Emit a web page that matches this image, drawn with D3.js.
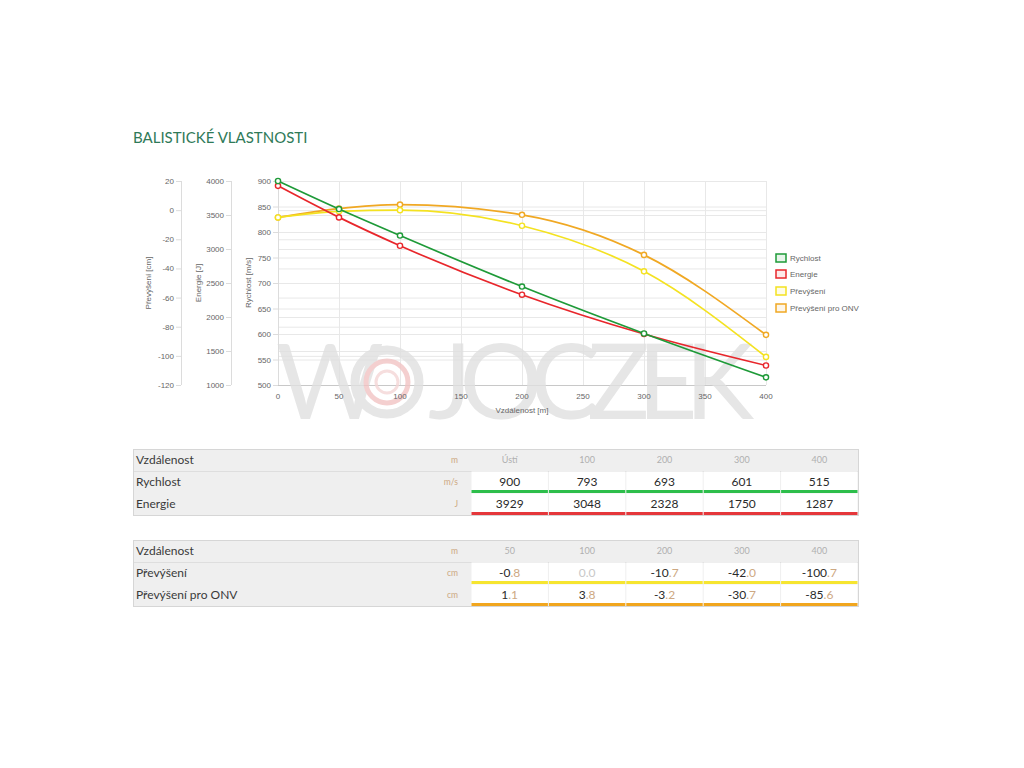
<!DOCTYPE html>
<html><head><meta charset="utf-8">
<script src="https://cdn.jsdelivr.net/npm/d3@7"></script>
<style>body{margin:0;background:#fff}svg{display:block}</style>
</head><body>
<svg id="c" width="1024" height="768"></svg>
<script>
// ---- data ----
const distances = [0, 50, 100, 200, 300, 400];
const speed = [900, 845, 793, 693, 601, 515];
const energy = [3929, 3465, 3048, 2328, 1750, 1287];
const drop = [-5, -0.8, 0.0, -10.7, -42.0, -100.7];
const dropOnv = [-5, 1.1, 3.8, -3.2, -30.7, -85.6];
const xTicks = [0, 50, 100, 150, 200, 250, 300, 350, 400];
const speedTicks = [500, 550, 600, 650, 700, 750, 800, 850, 900];
const energyTicks = [1000, 1500, 2000, 2500, 3000, 3500, 4000];
const cmTicks = [-120, -100, -80, -60, -40, -20, 0, 20];
const seriesNames = ["Rychlost", "Energie", "Převýšení", "Převýšení pro ONV"];
const seriesColors = ["#1e9a38", "#e8262b", "#f4e221", "#f0a823"];
const table1Head = ["Ústí", "100", "200", "300", "400"];
const table1Speed = [900, 793, 693, 601, 515];
const table1Energy = [3929, 3048, 2328, 1750, 1287];
const table2Head = ["50", "100", "200", "300", "400"];
const table2Drop = [-0.8, 0.0, -10.7, -42.0, -100.7];
const table2Onv = [1.1, 3.8, -3.2, -30.7, -85.6];

const svg = d3.select("#c");
const F = "'Liberation Sans', Arial, sans-serif";
const TF = "Lato, 'Open Sans', sans-serif";

// title
svg.append("text").attr("x", 133).attr("y", 143).text("BALISTICKÉ VLASTNOSTI")
  .attr("font-family", TF).attr("font-size", 15).attr("fill", "#2f7a58");

// ---- chart ----
const L = 278, R = 766, T = 181, B = 385;
const x = d3.scaleLinear().domain([0, 400]).range([L, R]);
const yS = d3.scaleLinear().domain([500, 900]).range([B, T]);
const yE = d3.scaleLinear().domain([1000, 4000]).range([B, T]);
const yC = d3.scaleLinear().domain([-120, 20]).range([B, T]);

const grid = svg.append("g");
[[yS, speedTicks], [yE, energyTicks], [yC, cmTicks]].forEach(([s, t]) => {
  grid.selectAll(null).data(t).enter().append("line")
    .attr("x1", L).attr("x2", R).attr("y1", d => s(d) + 0.5).attr("y2", d => s(d) + 0.5)
    .attr("stroke", "#e8e8e8");
});
grid.selectAll(null).data(xTicks).enter().append("line")
  .attr("x1", d => x(d) + 0.5).attr("x2", d => x(d) + 0.5).attr("y1", T).attr("y2", B)
  .attr("stroke", "#e8e8e8");
grid.append("line").attr("x1", L).attr("x2", R).attr("y1", B + 0.5).attr("y2", B + 0.5).attr("stroke", "#c8c8c8");

// watermark (logo)
const wm = svg.append("g").attr("opacity", 0.8);
wm.append("text").attr("x", 276).attr("y", 419).text("W")
  .attr("font-family", TF).attr("font-size", 104).attr("fill", "#e0e0e0");
wm.append("circle").attr("cx", 387).attr("cy", 382).attr("r", 32).attr("fill", "none").attr("stroke", "#e0e0e0").attr("stroke-width", 9);
wm.append("circle").attr("cx", 387).attr("cy", 382).attr("r", 21).attr("fill", "none").attr("stroke", "#f2c4c4").attr("stroke-width", 5);
wm.append("circle").attr("cx", 387).attr("cy", 382).attr("r", 11).attr("fill", "none").attr("stroke", "#f5d6d6").attr("stroke-width", 3);
wm.append("text").attr("x", 428).attr("y", 419).text("JOCZEK")
  .attr("font-family", TF).attr("font-size", 104).attr("fill", "#e0e0e0")
  .attr("textLength", 326).attr("lengthAdjust", "spacing");

// axes
function leftAxis(scale, ticks, ax, title, tx) {
  const g = svg.append("g").attr("font-family", F).attr("font-size", 8).attr("fill", "#666");
  g.append("line").attr("x1", ax + 0.5).attr("x2", ax + 0.5).attr("y1", T).attr("y2", B).attr("stroke", "#dcdcdc");
  g.selectAll(null).data(ticks).enter().append("line")
    .attr("x1", ax - 5).attr("x2", ax).attr("y1", d => scale(d) + 0.5).attr("y2", d => scale(d) + 0.5).attr("stroke", "#dcdcdc");
  g.selectAll(null).data(ticks).enter().append("text")
    .attr("x", ax - 7).attr("y", d => scale(d) + 3).attr("text-anchor", "end").text(d => d);
  g.append("text").attr("transform", `translate(${tx},283) rotate(-90)`).attr("text-anchor", "middle").text(title);
}
leftAxis(yC, cmTicks, 181, "Převýšení [cm]", 151);
leftAxis(yE, energyTicks, 231, "Energie [J]", 201);
leftAxis(yS, speedTicks, 278, "Rychlost [m/s]", 251);

const xg = svg.append("g").attr("font-family", F).attr("font-size", 8).attr("fill", "#666");
xg.selectAll(null).data(xTicks).enter().append("text")
  .attr("x", d => x(d)).attr("y", 399).attr("text-anchor", "middle").text(d => d);
xg.append("text").attr("x", (L + R) / 2).attr("y", 413).attr("text-anchor", "middle").text("Vzdálenost [m]");

// series
const series = [
  { vals: speed, scale: yS },
  { vals: energy, scale: yE },
  { vals: drop, scale: yC },
  { vals: dropOnv, scale: yC }
];
[3, 2, 1, 0].forEach(i => {
  const s = series[i];
  const pts = distances.map((d, j) => [x(d), s.scale(s.vals[j])]);
  svg.append("path").attr("d", d3.line().curve(d3.curveMonotoneX)(pts))
    .attr("fill", "none").attr("stroke", seriesColors[i]).attr("stroke-width", 1.7);
  svg.selectAll(null).data(pts).enter().append("circle")
    .attr("cx", d => d[0]).attr("cy", d => d[1]).attr("r", 2.6)
    .attr("fill", "#fff").attr("stroke", seriesColors[i]).attr("stroke-width", 1.4);
});

// legend
const lg = svg.append("g").attr("font-family", F).attr("font-size", 8).attr("fill", "#666");
const legY = [258, 274, 291, 308];
seriesNames.forEach((n, i) => {
  lg.append("rect").attr("x", 776).attr("y", legY[i] - 4).attr("width", 10).attr("height", 8)
    .attr("fill", seriesColors[i]).attr("fill-opacity", 0.1).attr("stroke", seriesColors[i]).attr("stroke-width", 1.5);
  lg.append("text").attr("x", 790).attr("y", legY[i] + 3).text(n);
});

// ---- tables ----
const colX = d3.scaleBand().domain(d3.range(5)).range([471, 858]);
function table(top, head, rows) {
  const g = svg.append("g").attr("font-family", TF);
  const rh = 22;
  const h = rh * 3;
  g.append("rect").attr("x", 133.5).attr("y", top + 0.5).attr("width", 725).attr("height", h).attr("fill", "#efefef").attr("stroke", "#d6d6d6");
  g.append("text").attr("x", 136).attr("y", top + 15).attr("font-size", 12).attr("fill", "#3a3a3a").text("Vzdálenost");
  g.append("text").attr("x", 458).attr("y", top + 14).attr("font-size", 8.5).attr("text-anchor", "end").attr("fill", "#cda882").text("m");
  head.forEach((t, i) => {
    g.append("text").attr("x", colX(i) + colX.bandwidth() / 2).attr("y", top + 14).attr("font-size", 9)
      .attr("text-anchor", "middle").attr("fill", "#b0b0b0").text(t);
  });
  g.append("line").attr("x1", 134).attr("x2", 858).attr("y1", top + rh + 0.5).attr("y2", top + rh + 0.5).attr("stroke", "#dedede");
  rows.forEach((r, ri) => {
    const y0 = top + rh * (ri + 1);
    g.append("text").attr("x", 136).attr("y", y0 + 15).attr("font-size", 12).attr("fill", "#3a3a3a").text(r.label);
    g.append("text").attr("x", 458).attr("y", y0 + 14).attr("font-size", 8.5).attr("text-anchor", "end").attr("fill", "#cda882").text(r.unit);
    r.vals.forEach((v, i) => {
      const cx = colX(i);
      g.append("rect").attr("x", cx + 0.5).attr("y", y0 + 0.5).attr("width", colX.bandwidth() - 1).attr("height", rh - 1).attr("fill", "#fff");
      g.append("rect").attr("x", cx + 0.5).attr("y", y0 + rh - 3).attr("width", colX.bandwidth() - 1).attr("height", 3).attr("fill", r.color);
      const t = g.append("text").attr("x", cx + colX.bandwidth() / 2).attr("y", y0 + 15).attr("font-size", 12)
        .attr("text-anchor", "middle").attr("fill", "#2a2a2a");
      if (r.dec) {
        const s = v.toFixed(1);
        if (v === 0) { t.attr("fill", "#c8c8c8").text(s); }
        else {
          const p = s.split(".");
          t.append("tspan").text(p[0]);
          t.append("tspan").attr("fill", "#cda882").text("." + p[1]);
        }
      } else t.text(v);
    });
  });
}
table(449, table1Head, [
  { label: "Rychlost", unit: "m/s", vals: table1Speed, color: "#2dbe4b" },
  { label: "Energie", unit: "J", vals: table1Energy, color: "#e5373b" }
]);
table(540, table2Head, [
  { label: "Převýšení", unit: "cm", vals: table2Drop, color: "#f6e530", dec: true },
  { label: "Převýšení pro ONV", unit: "cm", vals: table2Onv, color: "#f1a61e", dec: true }
]);
</script>
</body></html>
